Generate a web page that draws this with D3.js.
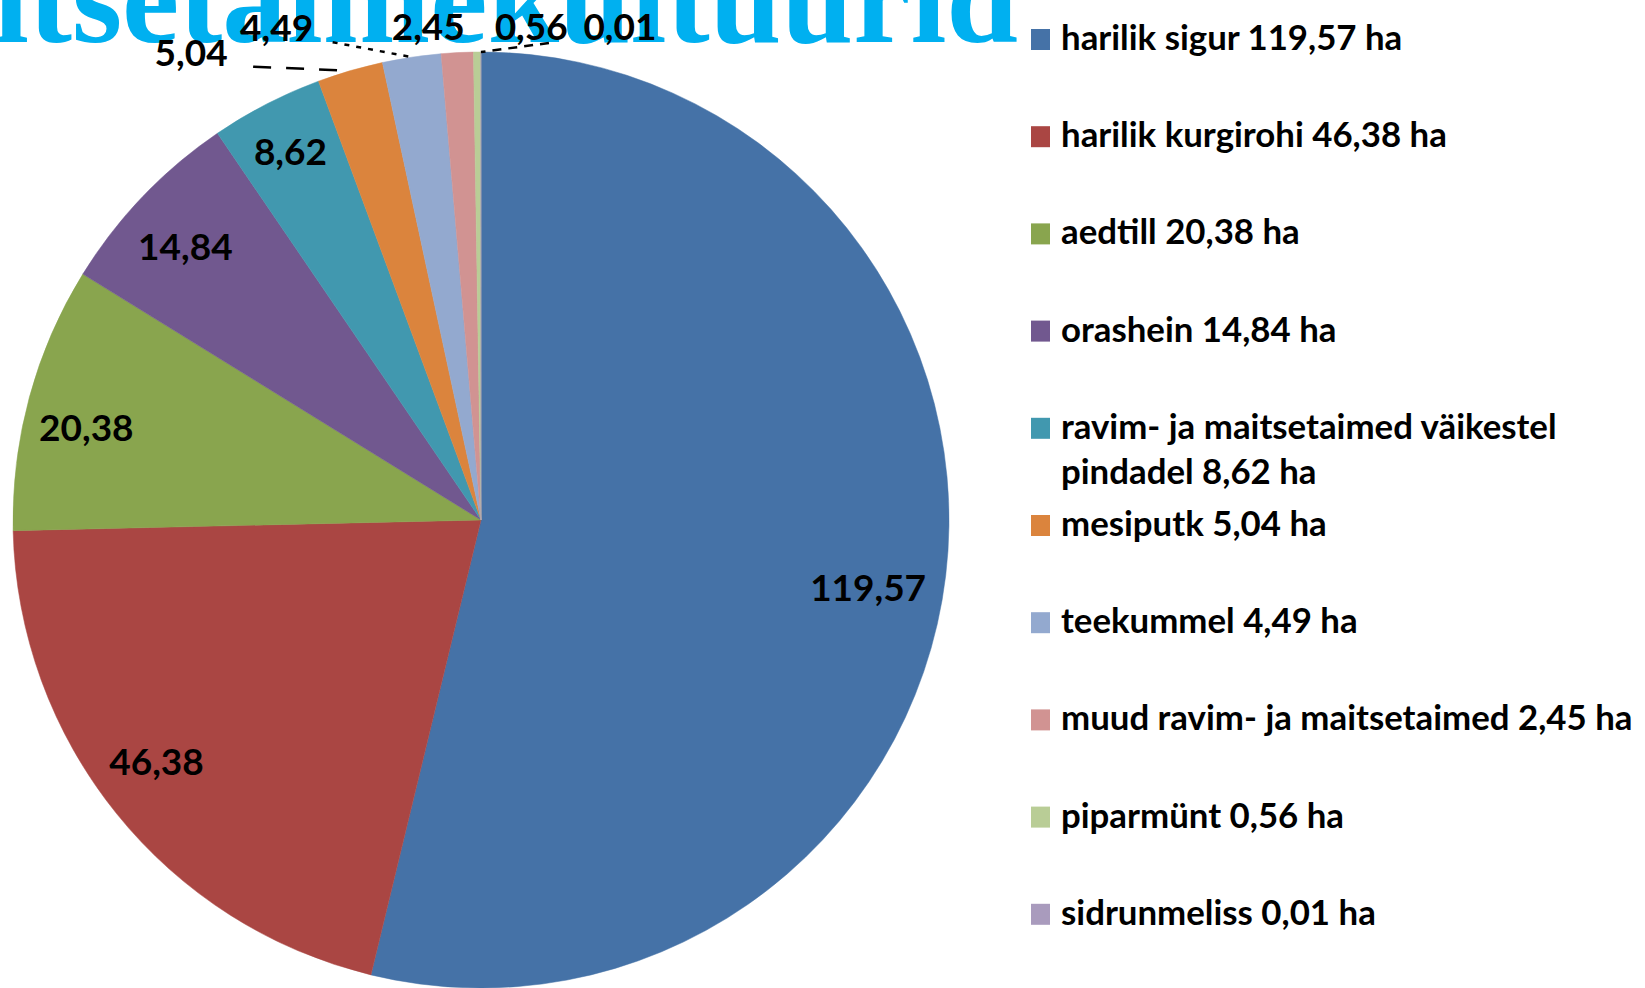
<!DOCTYPE html>
<html>
<head>
<meta charset="utf-8">
<script src="https://cdn.jsdelivr.net/npm/d3@7"></script>
<style>
  body { margin: 0; background: #fff; }
  svg { display: block; }
  .pie-label { font-family: Lato, "Open Sans", sans-serif; font-weight: 700; fill: #000; }
  .legend-text { font-family: Lato, "Open Sans", sans-serif; font-weight: 700; fill: #000; }
</style>
</head>
<body>
<div id="chart"></div>
<script>
// data (ha)
const crops = ["harilik sigur", "harilik kurgirohi", "aedtill", "orashein",
  "ravim- ja maitsetaimed väikestel pindadel", "mesiputk", "teekummel",
  "muud ravim- ja maitsetaimed", "piparmünt", "sidrunmeliss"];
const areas = [119.57, 46.38, 20.38, 14.84, 8.62, 5.04, 4.49, 2.45, 0.56, 0.01];
const sliceColors = ["#4572A7", "#AA4643", "#89A54E", "#71588F", "#4198AF",
  "#DB843D", "#93A9CF", "#D19392", "#B9CD96", "#A99BBD"];
const titleText = "Ravim- ja maitsetaimekultuurid";

const width = 1645, height = 988;
const cx = 481, cy = 520, radius = 468;

// label layout (inside labels: shift from centroid, outside: offset from the arc point)
const insideShift = [[-19, 19], [-6, -15], [0, 15], [0, 9], [-3, -5]];
const outsideOffset = [null, null, null, null, null, [-159, -18], [-135, -30], [-29, -26], [54, -25], [139, -25]];
const leaderFrom = [null, null, null, null, null, [62, 14], [56, 15], null, null, [-71, 16]];
const leaderDash = [null, null, null, null, null, "18,15", "5,7", null, null, "9,7"];

const ltFormat = d3.formatLocale({decimal: ",", thousands: " ", grouping: [3], currency: ["", " €"]}).format(".2f");

const svg = d3.select("#chart").append("svg")
  .attr("width", width)
  .attr("height", height);

// title, cut off at the top like in the slide
svg.append("text")
  .attr("x", 1018)
  .attr("y", 42)
  .attr("text-anchor", "end")
  .attr("font-family", "Liberation Serif, Times New Roman, serif")
  .attr("font-weight", "bold")
  .attr("font-size", 129)
  .attr("fill", "#00B0F0")
  .text(titleText);

const data = crops.map((c, i) => ({name: c, value: areas[i], idx: i}));

const pie = d3.pie().value(d => d.value).sort(null);
const arcs = pie(data);
const arc = d3.arc().innerRadius(0).outerRadius(radius);
const labelArc = d3.arc().innerRadius(409).outerRadius(409);
const edgeArc = d3.arc().innerRadius(radius).outerRadius(radius);

const pie_g = svg.append("g").attr("transform", `translate(${cx}, ${cy})`);

pie_g.selectAll("path.slice")
  .data(arcs)
  .enter().append("path")
  .attr("class", "slice")
  .attr("d", arc)
  .attr("fill", (d, i) => sliceColors[i])
  .attr("stroke", (d, i) => sliceColors[i])
  .attr("stroke-width", 0.5);

// label positions
arcs.forEach((d, i) => {
  if (outsideOffset[i]) {
    const p = edgeArc.centroid(d);
    d.edge = p;
    d.lx = p[0] + outsideOffset[i][0];
    d.ly = p[1] + outsideOffset[i][1];
  } else {
    const p = labelArc.centroid(d);
    d.lx = p[0] + insideShift[i][0];
    d.ly = p[1] + insideShift[i][1];
  }
});

// leader lines
pie_g.selectAll("line.leader")
  .data(arcs.filter((d, i) => leaderFrom[i]))
  .enter().append("line")
  .attr("class", "leader")
  .attr("x1", d => d.lx + leaderFrom[d.index][0])
  .attr("y1", d => d.ly + leaderFrom[d.index][1])
  .attr("x2", d => d.edge[0])
  .attr("y2", d => d.edge[1])
  .attr("stroke", "#000")
  .attr("stroke-width", 2.5)
  .attr("stroke-dasharray", d => leaderDash[d.index]);

pie_g.selectAll("text.pie-label")
  .data(arcs)
  .enter().append("text")
  .attr("class", "pie-label")
  .attr("x", d => d.lx)
  .attr("y", d => d.ly)
  .attr("dy", "0.36em")
  .attr("text-anchor", "middle")
  .attr("font-size", 37)
  .text(d => ltFormat(d.data.value));

// legend
const legendX = 1031, legendY0 = 50, legendStep = 97.2, wrapWidth = 595;
const legend_g = svg.append("g");

const items = legend_g.selectAll("g.item")
  .data(data)
  .enter().append("g")
  .attr("class", "item")
  .attr("transform", (d, i) => `translate(${legendX}, ${legendY0 + i * legendStep})`);

items.append("rect")
  .attr("x", 0)
  .attr("y", -21)
  .attr("width", 19)
  .attr("height", 21)
  .attr("fill", (d, i) => sliceColors[i]);

items.append("text")
  .attr("class", "legend-text")
  .attr("x", 30)
  .attr("y", 0)
  .attr("font-size", 34.8)
  .text(d => `${d.name} ${ltFormat(d.value)} ha`)
  .each(function() {
    // wrap long legend entries onto a second line
    const text = d3.select(this);
    const words = text.text().split(/\s+/).reverse();
    let line = [], word, lineNo = 0;
    let tspan = text.text(null).append("tspan").attr("x", 30).attr("y", 0);
    while (word = words.pop()) {
      line.push(word);
      tspan.text(line.join(" "));
      if (tspan.node().getComputedTextLength() > wrapWidth) {
        line.pop();
        tspan.text(line.join(" "));
        line = [word];
        lineNo++;
        tspan = text.append("tspan").attr("x", 30).attr("y", lineNo * 45).text(word);
      }
    }
  });
</script>
</body>
</html>
